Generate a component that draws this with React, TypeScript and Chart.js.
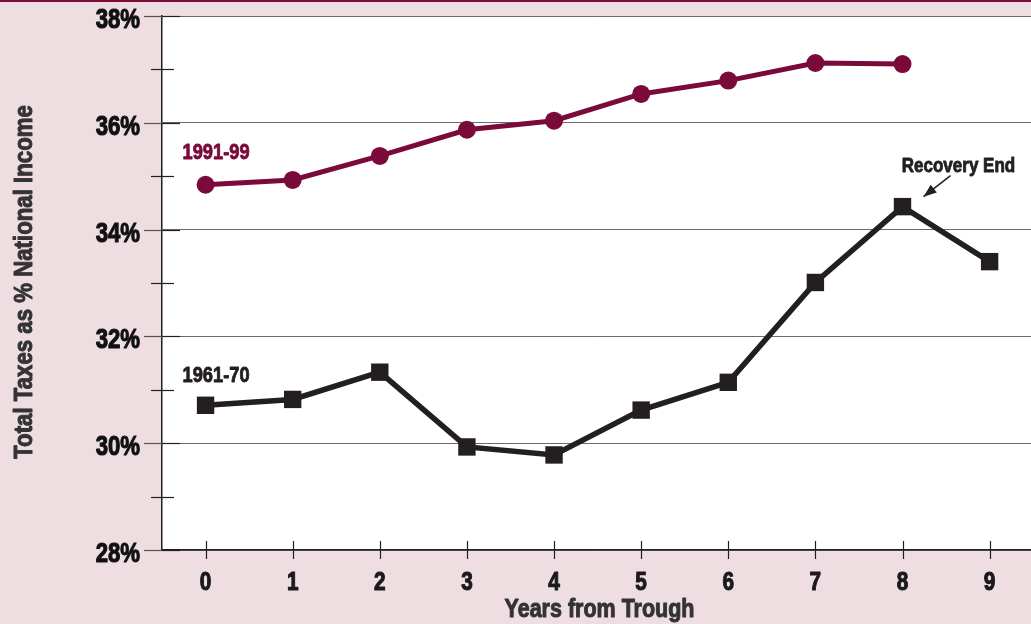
import React, { useEffect, useRef } from "react";
import { Chart, registerables } from "chart.js";

Chart.register(...registerables);

const years: number[] = [0, 1, 2, 3, 4, 5, 6, 7, 8, 9];
const series1991: number[] = [34.84, 34.93, 35.38, 35.87, 36.04, 36.54, 36.79, 37.12, 37.1];
const series1961: number[] = [30.71, 30.82, 31.33, 29.93, 29.78, 30.62, 31.14, 33.01, 34.43, 33.4];
const yMajorTicks: number[] = [28, 30, 32, 34, 36, 38];
const yMinorTicks: number[] = [29, 31, 33, 35, 37];
const label1991 = "1991-99";
const label1961 = "1961-70";
const annotationText = "Recovery End";
const xTitle = "Years from Trough";
const yTitle = "Total Taxes as % National Income";

const FONT = '"Liberation Sans", Arial, sans-serif';
const PINK = "#eedde1";
const MAROON = "#7a0a3a";
const DARK = "#231f20";

function txt(
  ctx: CanvasRenderingContext2D,
  text: string,
  x: number,
  y: number,
  size: number,
  color: string,
  align: CanvasTextAlign,
  sx: number,
  rot = 0,
  heavy = 1
) {
  ctx.save();
  ctx.translate(x, y);
  if (rot) ctx.rotate(rot);
  ctx.scale(sx, 1);
  ctx.font = `700 ${size}px ${FONT}`;
  ctx.fillStyle = color;
  ctx.strokeStyle = color;
  ctx.lineWidth = heavy;
  ctx.lineJoin = "round";
  ctx.textAlign = align;
  ctx.textBaseline = "alphabetic";
  ctx.fillText(text, 0, 0);
  if (heavy > 0) ctx.strokeText(text, 0, 0);
  ctx.restore();
}

const decorPlugin = {
  id: "decor",
  beforeDraw(chart: any) {
    const { ctx, chartArea: a, width, height } = chart;
    ctx.save();
    ctx.fillStyle = PINK;
    ctx.fillRect(0, 0, width, height);
    ctx.fillStyle = "#ffffff";
    ctx.fillRect(a.left, a.top, a.right - a.left, a.bottom - a.top);
    ctx.fillStyle = MAROON;
    ctx.fillRect(0, 0, width, 2);
    ctx.restore();
  },
  afterDraw(chart: any) {
    const { ctx, chartArea: a } = chart;
    const xs = chart.scales.x;
    const ys = chart.scales.y;
    ctx.save();
    ctx.strokeStyle = DARK;
    ctx.lineWidth = 1.2;
    yMinorTicks.forEach((v) => {
      const y = Math.round(ys.getPixelForValue(v)) + 0.5;
      ctx.beginPath();
      ctx.moveTo(a.left - 11, y);
      ctx.lineTo(a.left + 12, y);
      ctx.stroke();
    });
    yMajorTicks.forEach((v) => {
      const y = Math.round(ys.getPixelForValue(v)) + 0.5;
      ctx.strokeStyle = "#555";
      ctx.beginPath();
      ctx.moveTo(a.left - 18, y);
      ctx.lineTo(a.left, y);
      ctx.stroke();
      ctx.strokeStyle = DARK;
      ctx.beginPath();
      ctx.moveTo(a.left, y);
      ctx.lineTo(a.left + 18, y);
      ctx.stroke();
    });
    years.forEach((v) => {
      const x = Math.round(xs.getPixelForValue(v)) + 0.5;
      ctx.beginPath();
      ctx.moveTo(x, a.bottom - 9);
      ctx.lineTo(x, a.bottom + 9);
      ctx.stroke();
    });
    ctx.restore();

    // tick labels
    yMajorTicks.forEach((v) => {
      txt(ctx, v + "%", a.left - 22, ys.getPixelForValue(v) + 12, 27, "#111", "right", 0.82, 0, 1.1);
    });
    years.forEach((v) => {
      txt(ctx, String(v), xs.getPixelForValue(v), 590, 26, "#1a1a1a", "center", 0.8, 0, 1.1);
    });
    // axis titles
    txt(ctx, xTitle, (a.left + a.right) / 2 + 3, 617, 25, "#333", "center", 0.86, 0, 1.0);
    txt(ctx, yTitle, 32, (a.top + a.bottom) / 2 - 1, 26, "#333", "center", 0.855, -Math.PI / 2, 1.0);

    // series labels
    const lx = xs.getPixelForValue(0) - 23;
    txt(ctx, label1991, lx, ys.getPixelForValue(series1991[0]) - 26, 22, MAROON, "left", 0.83, 0, 0.9);
    txt(ctx, label1961, lx, ys.getPixelForValue(series1961[0]) - 23, 22, DARK, "left", 0.83, 0, 0.9);

    // Recovery End annotation
    const px = xs.getPixelForValue(8);
    const py = ys.getPixelForValue(series1961[8]);
    txt(ctx, annotationText, px + 56, py - 35, 21, DARK, "center", 0.81, 0, 0.9);
    const tipX = px + 21;
    const tipY = py - 10;
    const tailX = px + 48;
    const tailY = py - 31;
    ctx.save();
    ctx.strokeStyle = DARK;
    ctx.lineWidth = 1.5;
    ctx.beginPath();
    ctx.moveTo(tailX, tailY);
    ctx.lineTo(tipX, tipY);
    ctx.stroke();
    const ang = Math.atan2(tipY - tailY, tipX - tailX);
    const hl = 13;
    const hw = 5;
    ctx.fillStyle = DARK;
    ctx.beginPath();
    ctx.moveTo(tipX, tipY);
    ctx.lineTo(
      tipX - hl * Math.cos(ang) + hw * Math.sin(ang),
      tipY - hl * Math.sin(ang) - hw * Math.cos(ang)
    );
    ctx.lineTo(
      tipX - hl * Math.cos(ang) - hw * Math.sin(ang),
      tipY - hl * Math.sin(ang) + hw * Math.cos(ang)
    );
    ctx.closePath();
    ctx.fill();
    ctx.restore();
  },
};

export default function App() {
  const ref = useRef<HTMLCanvasElement | null>(null);
  useEffect(() => {
    if (!ref.current) return;
    const chart = new Chart(ref.current, {
      type: "line",
      data: {
        datasets: [
          {
            label: label1961,
            data: series1961.map((v, i) => ({ x: years[i], y: v })),
            borderColor: DARK,
            backgroundColor: DARK,
            borderWidth: 5.5,
            pointStyle: "rect",
            pointRadius: 12.3,
            pointBorderWidth: 0,
            pointBackgroundColor: DARK,
            borderJoinStyle: "miter",
            tension: 0,
          },
          {
            label: label1991,
            data: series1991.map((v, i) => ({ x: years[i], y: v })),
            borderColor: MAROON,
            backgroundColor: MAROON,
            borderWidth: 5,
            pointStyle: "circle",
            pointRadius: 9,
            pointBorderWidth: 0,
            pointBackgroundColor: MAROON,
            tension: 0,
          },
        ],
      },
      options: {
        responsive: false,
        animation: false,
        devicePixelRatio: 1,
        layout: { autoPadding: false, padding: { top: 16, right: 0, left: 0, bottom: 0 } },
        plugins: { legend: { display: false }, tooltip: { enabled: false } },
        scales: {
          x: {
            type: "linear",
            min: -0.5,
            max: 9.475,
            afterFit: (s: any) => {
              s.height = 74;
              s.paddingLeft = 0;
              s.paddingRight = 0;
            },
            afterBuildTicks: (s: any) => {
              s.ticks = years.map((v) => ({ value: v }));
            },
            grid: { display: false, drawTicks: false },
            border: { display: true, color: DARK, width: 1.5 },
            ticks: { display: false },
            title: { display: false },
          },
          y: {
            min: 28,
            max: 38,
            afterFit: (s: any) => {
              s.width = 162;
              s.paddingTop = 0;
              s.paddingBottom = 0;
            },
            afterBuildTicks: (s: any) => {
              s.ticks = yMajorTicks.map((v) => ({ value: v }));
            },
            grid: { color: "#6a6a6a", lineWidth: 1, drawTicks: false },
            border: { display: true, color: DARK, width: 1.5 },
            ticks: { display: false },
            title: { display: false },
          },
        },
      },
      plugins: [decorPlugin],
    } as any);
    return () => chart.destroy();
  }, []);
  return (
    <div style={{ position: "absolute", left: 0, top: 0, width: 1031, height: 624 }}>
      <canvas ref={ref} width={1031} height={624} style={{ display: "block" }} />
    </div>
  );
}
